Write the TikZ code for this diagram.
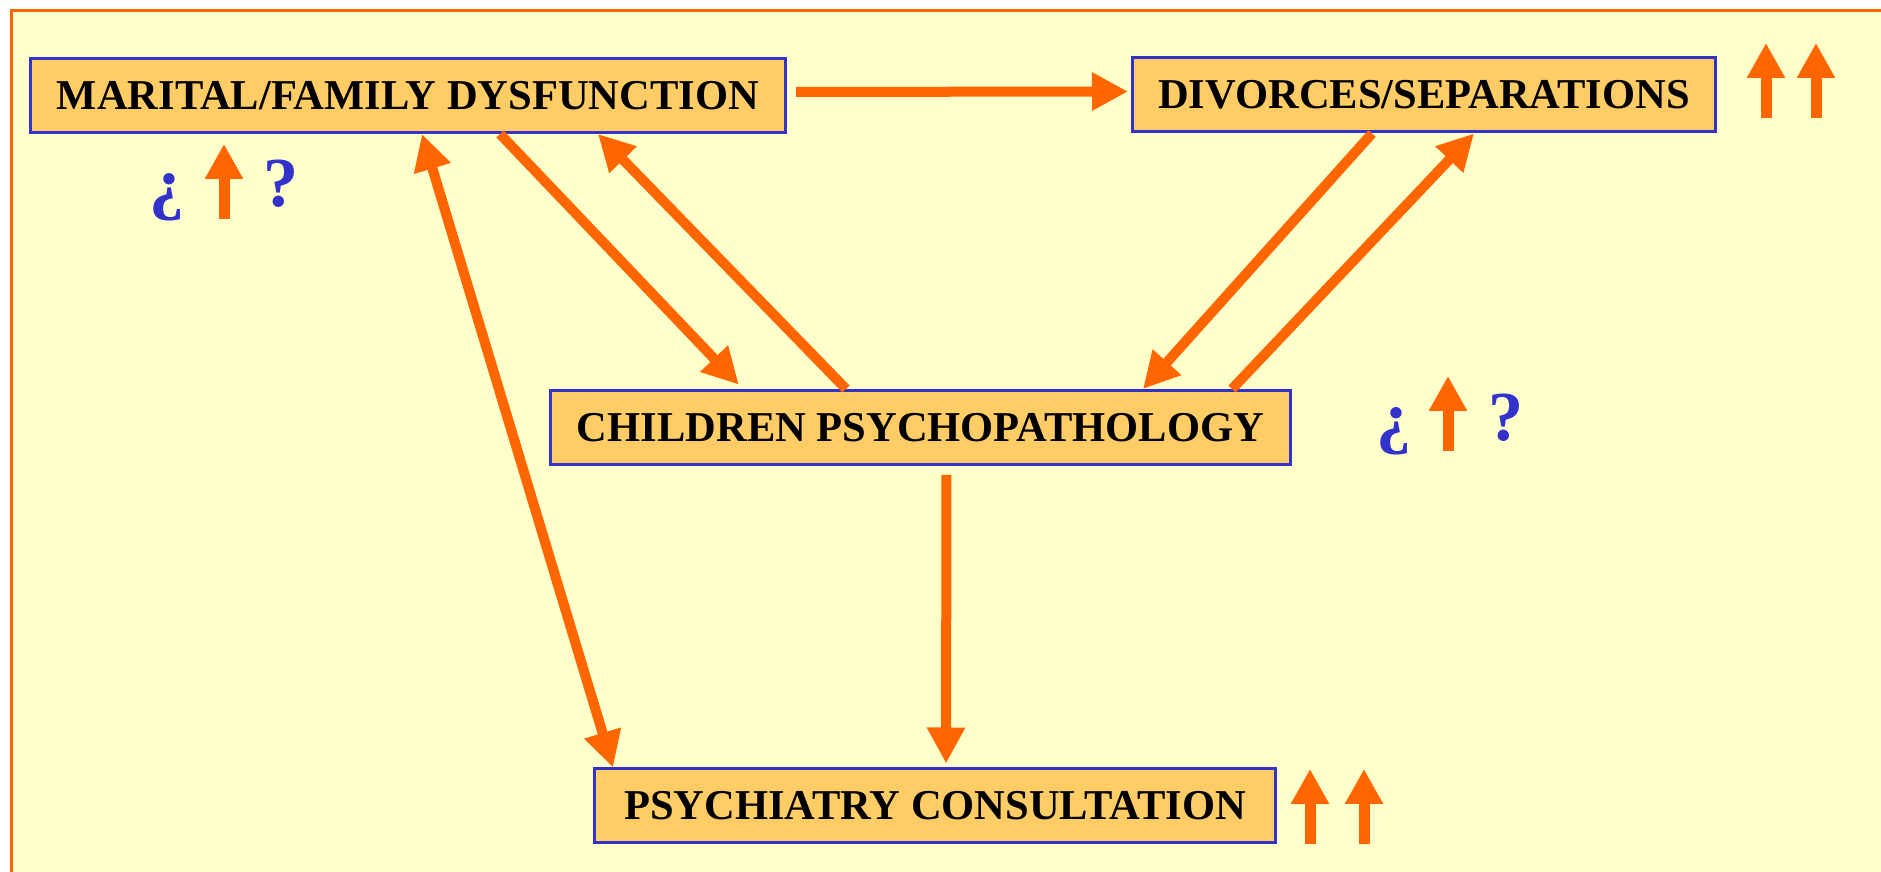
\documentclass[tikz,border=0pt]{standalone}
\usepackage{fontspec}
\setmainfont{Liberation Serif}
\usetikzlibrary{arrows.meta}
\definecolor{paleyellow}{HTML}{FFFFCC}
\definecolor{boxorange}{HTML}{FFCC66}
\definecolor{boxblue}{HTML}{3333CC}
\definecolor{linkorange}{HTML}{FF6600}
\begin{document}
\begin{tikzpicture}[boxnode/.style={rectangle, draw=boxblue, fill=boxorange, line width=0.03cm, minimum height=0.74cm, inner sep=0pt, font=\bfseries\fontsize{12.1}{14}\selectfont}, link/.style={line width=0.1cm, color=linkorange, -{Triangle[length=0.36cm, width=0.36cm]}}, twolink/.style={link, {Triangle[length=0.36cm, width=0.36cm]}-{Triangle[length=0.36cm, width=0.36cm]}}, risearrow/.style={line width=0.11cm, color=linkorange, -{Triangle[length=0.35cm, width=0.36cm]}}, qsign/.style={anchor=base, inner sep=0pt, text=boxblue, font=\bfseries\fontsize{20}{24}\selectfont}]
\useasboundingbox (0,0) rectangle (18.81,8.72);
\fill[white] (0,0) rectangle (18.81,8.72);
\begin{scope}
\clip (0,0) rectangle (18.81,8.72);
\draw[fill=paleyellow, draw=linkorange, line width=0.03cm] (0.11,-0.5) rectangle (19.5,8.61);
\end{scope}
% boxes
\node[boxnode, minimum width=7.55cm] at (4.08, 7.765) (marital) {MARITAL/FAMILY DYSFUNCTION};
\node[boxnode, minimum width=5.83cm] at (14.24, 7.77) (divorces) {DIVORCES/SEPARATIONS};
\node[boxnode, minimum width=7.40cm] at (9.205, 4.445) (children) {CHILDREN PSYCHOPATHOLOGY};
\node[boxnode, minimum width=6.81cm] at (9.35, 0.66) (psych) {PSYCHIATRY CONSULTATION};
% links
\draw[link, shorten <=0.09cm, shorten >=0.03cm] ([yshift=0.035cm]marital.east) -- ([yshift=0.035cm]divorces.west);
\draw[link, shorten >=0.06cm] ([xshift=0.92cm]marital.south) -- ([xshift=-1.775cm]children.north);
\draw[link] ([xshift=-0.745cm]children.north) -- ([xshift=1.90cm]marital.south);
\draw[link] ([xshift=-0.52cm]divorces.south) -- ([xshift=2.225cm]children.north);
\draw[link] ([xshift=3.115cm]children.north) -- ([xshift=0.50cm]divorces.south);
\draw[link, shorten <=0.09cm, shorten >=0.04cm] ([xshift=0.26cm]children.south) -- ([xshift=0.11cm]psych.north);
\draw[twolink] ([xshift=0.14cm]marital.south) -- ([xshift=-3.22cm]psych.north);
% rise marks
\coordinate (riseM) at (2.24, 6.53);
\coordinate (riseC) at (14.48, 4.21);
\coordinate (riseDa) at (17.66, 7.54);
\coordinate (riseDb) at (18.16, 7.54);
\coordinate (risePa) at (13.10, 0.28);
\coordinate (risePb) at (13.64, 0.28);
\foreach \r in {riseM, riseC, riseDa, riseDb, risePa, risePb}
  \draw[risearrow] (\r) -- ++(0, 0.75);
\node[qsign] at (1.67, 6.65) (invM) {¿};
\node[qsign] at (2.81, 6.65) (qM) {?};
\node[qsign] at (13.94, 4.31) (invC) {¿};
\node[qsign] at (15.06, 4.31) (qC) {?};
\end{tikzpicture}
\end{document}
